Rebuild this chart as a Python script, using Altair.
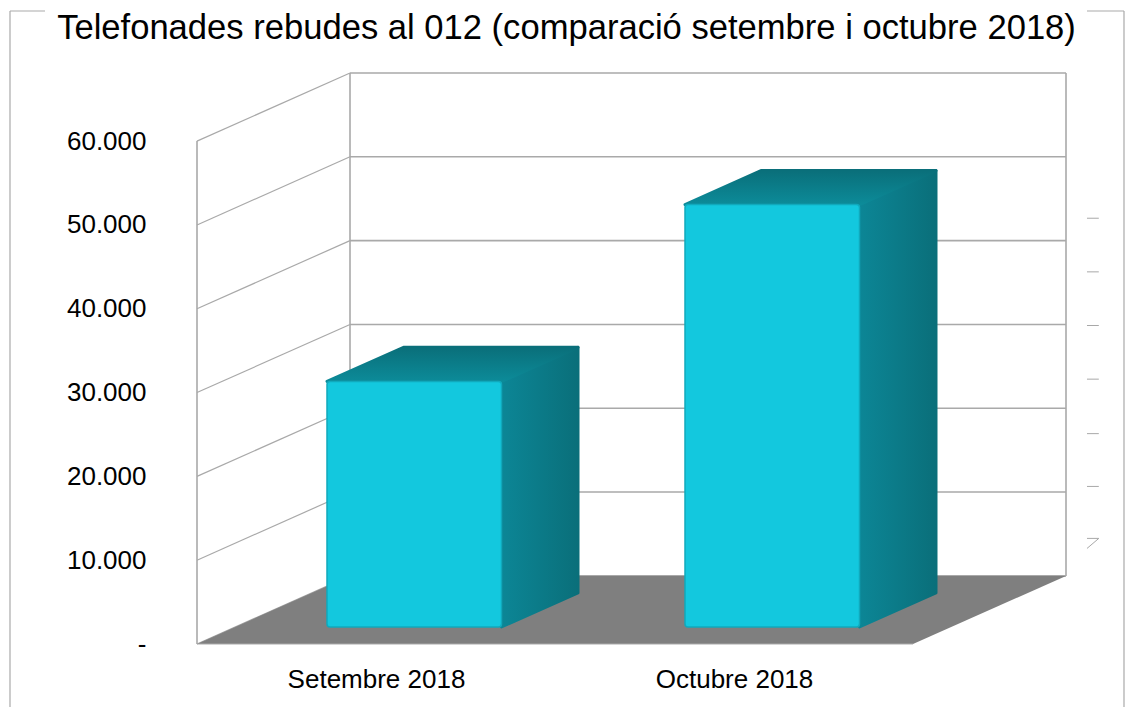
import altair as alt
import pandas as pd

TITLE = "Telefonades rebudes al 012 (comparació setembre i octubre 2018)"
categories = ["Setembre 2018", "Octubre 2018"]
calls = [29300, 50400]
y_ticks = [0, 10000, 20000, 30000, 40000, 50000, 60000]
stray_ticks = [50800, 44400, 38000, 31600, 25100, 18800]
stray_mark_y = [12600, 12600, 11400]
stray_mark_x = [2.486, 2.519, 2.486]

FONT = "Liberation Sans"
GRID = "#a9a9a9"
PX = 358.0                 # pixels per category slot
DEPTH_X = 153 / PX         # shear of the full depth, in x units
DEPTH_Y = 68 / 502 * 60000 # shear of the full depth, in value units
BAR_W = 174.5 / PX
X_DOM = [0, 2 + DEPTH_X + 0.0]
Y_DOM = [0, 60000 + DEPTH_Y]
W, H = 869, 571

xs = alt.Scale(domain=X_DOM, nice=False, zero=False)
ys = alt.Scale(domain=Y_DOM, nice=False, zero=False)
X = lambda **k: alt.X("x:Q", scale=xs, title=None, **k)
Y = lambda **k: alt.Y("y:Q", scale=ys, title=None, **k)

y_axis = alt.Axis(values=y_ticks, grid=False, domain=False, ticks=False, labelPadding=51,
                  labelFont=FONT, labelFontSize=26, labelColor="#000000",
                  labelExpr="datum.value == 0 ? '-' : replace(format(datum.value, ','), ',', '.')")
x_axis = alt.Axis(values=[0.5, 1.5], grid=False, domain=False, ticks=False, labelPadding=22,
                  labelFont=FONT, labelFontSize=26, labelColor="#000000", labelAngle=0,
                  labelExpr=f"datum.value < 1 ? '{categories[0]}' : '{categories[1]}'")

# walls
side = pd.DataFrame([{"v": v, "x": d * DEPTH_X, "y": v + d * DEPTH_Y} for v in y_ticks for d in (0, 1)])
side_lines = alt.Chart(side).mark_line(color=GRID, strokeWidth=1.2).encode(
    x=X(axis=x_axis), y=Y(axis=y_axis), detail="v:N")
back = pd.DataFrame([{"y": v + DEPTH_Y, "x": DEPTH_X, "x2": 2 + DEPTH_X} for v in y_ticks])
back_lines = alt.Chart(back).mark_rule(color=GRID, strokeWidth=1.6).encode(x=X(), x2="x2:Q", y=Y())
verts = pd.DataFrame([{"x": x, "y": b, "y2": b + 60000} for x, b in
                      [(0, 0), (DEPTH_X, DEPTH_Y), (2 + DEPTH_X, DEPTH_Y)]])
vert_lines = alt.Chart(verts).mark_rule(color=GRID, strokeWidth=1.6).encode(x=X(), y=Y(), y2="y2:Q")

# floor
floor = pd.DataFrame([{"y": d * DEPTH_Y, "x": d * DEPTH_X, "x2": 2 + d * DEPTH_X} for d in (0, 1)])
floor_area = alt.Chart(floor).mark_area(orient="horizontal", color="#7f7f7f").encode(
    y=Y(), x=X(), x2="x2:Q")
floor_edge = alt.Chart(pd.DataFrame([{"x": 0, "x2": 2, "y": 0}])).mark_rule(
    color=GRID, strokeWidth=1.2).encode(x=X(), x2="x2:Q", y=Y())

# bars: front face, top face, side face, sheared to a quarter and three quarters of the depth
D0, D1 = 0.25, 0.75
rows_front, rows_top, rows_side = [], [], []
for i, (c, v) in enumerate(zip(categories, calls)):
    left = i + 0.5 - BAR_W / 2
    right = left + BAR_W
    rows_front.append({"c": c, "x": left + D0 * DEPTH_X, "x2": right + D0 * DEPTH_X,
                       "y": v + D0 * DEPTH_Y, "y2": D0 * DEPTH_Y})
    for d in (D0, D1):
        rows_top.append({"c": c, "y": v + d * DEPTH_Y, "x": left + d * DEPTH_X, "x2": right + d * DEPTH_X})
        rows_side.append({"c": c, "x": right + d * DEPTH_X, "y": v + d * DEPTH_Y, "y2": d * DEPTH_Y})

grad_top = alt.Gradient(gradient="linear", x1=0, x2=0, y1=0, y2=1, stops=[
    alt.GradientStop(color="#0a6f7a", offset=0), alt.GradientStop(color="#0c8b99", offset=1)])
grad_side = alt.Gradient(gradient="linear", x1=0, x2=1, y1=0, y2=0, stops=[
    alt.GradientStop(color="#0c8696", offset=0), alt.GradientStop(color="#0a6f7a", offset=1)])

side_face = alt.Chart(pd.DataFrame(rows_side)).mark_area(
    color=grad_side, stroke=grad_side, strokeWidth=3, strokeJoin="round").encode(
    x=X(), y=Y(), y2="y2:Q", detail="c:N")
top_face = alt.Chart(pd.DataFrame(rows_top)).mark_area(
    orient="horizontal", color=grad_top, stroke=grad_top, strokeWidth=3, strokeJoin="round").encode(
    y=Y(), x=X(), x2="x2:Q", detail="c:N")
front_face = alt.Chart(pd.DataFrame(rows_front)).mark_rect(
    color="#13c8de", stroke="#10a9bc", strokeWidth=1.5, cornerRadius=3).encode(
    x=X(), x2="x2:Q", y=Y(), y2="y2:Q")

# stray marks to the right of the plot
stray = pd.DataFrame({"y": stray_ticks, "x": 2.486, "x2": 2.519})
stray_rules = alt.Chart(stray).mark_rule(color="#a8a8a8", strokeWidth=1).encode(x=X(), x2="x2:Q", y=Y())
stray_seven = alt.Chart(pd.DataFrame({"x": stray_mark_x, "y": stray_mark_y, "o": [0, 1, 2]})).mark_line(
    color="#a8a8a8", strokeWidth=1).encode(x=X(), y=Y(), order="o:Q")

# outer frame, broken by the title
fr = alt.Chart(pd.DataFrame({"k": [0]}))
frame = [
    fr.mark_rule(color=GRID, strokeWidth=1.2).encode(x=alt.value(-187), y=alt.value(-62), y2=alt.value(634)),
    fr.mark_rule(color=GRID, strokeWidth=1.2).encode(x=alt.value(927), y=alt.value(-62), y2=alt.value(634)),
    fr.mark_rule(color=GRID, strokeWidth=1.2).encode(x=alt.value(-187), x2=alt.value(-152), y=alt.value(-62)),
    fr.mark_rule(color=GRID, strokeWidth=1.2).encode(x=alt.value(890), x2=alt.value(927), y=alt.value(-62)),
]

chart = alt.layer(
    side_lines, back_lines, vert_lines, floor_area, floor_edge,
    side_face, top_face, front_face, stray_rules, stray_seven, *frame
).properties(
    width=W, height=H,
    padding={"left": 189, "top": 65, "right": 59, "bottom": 63},
    autosize=alt.AutoSizeParams(type="none"),
    background="#ffffff",
    title=alt.TitleParams(TITLE, font=FONT, fontSize=34.6, fontWeight="normal", color="#000000",
                          anchor="middle", dx=-65, offset=-36),
).configure_view(stroke=None)

chart.save("out.html", embed_options={"renderer": "svg", "actions": False})
